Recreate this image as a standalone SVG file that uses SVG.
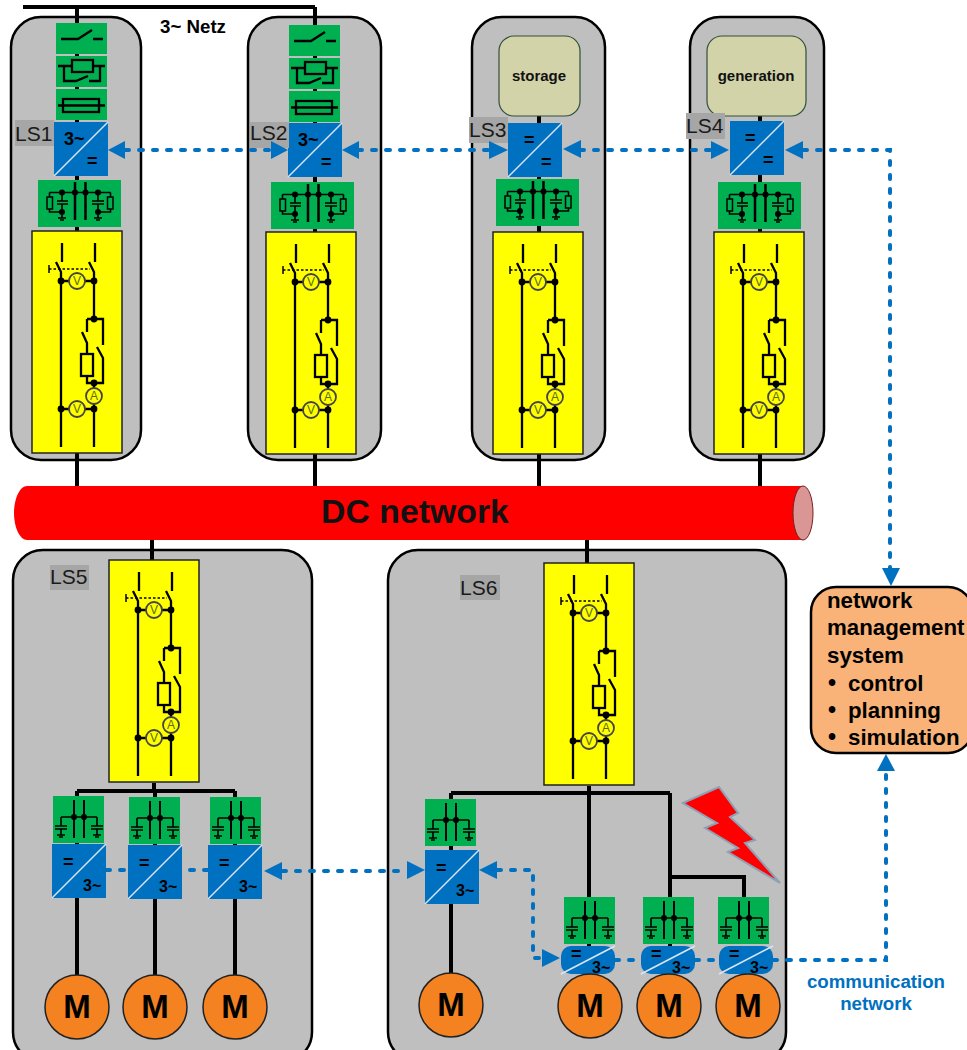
<svg xmlns="http://www.w3.org/2000/svg" width="967" height="1050" viewBox="0 0 967 1050">
<style>
text{font-family:"Liberation Sans",Arial,sans-serif}
.panel{fill:#bfbfbf;stroke:#000;stroke-width:2.5}
.wire{fill:none;stroke:#000;stroke-width:4}
.thin{fill:none;stroke:#000;stroke-width:2.3}
.gr{fill:#00b050}
.blue{fill:#0070c0}
.diag{stroke:#dce6f2;stroke-width:1.5;fill:none}
.comm{fill:none;stroke:#0070c0;stroke-width:4;stroke-dasharray:4 10;stroke-linecap:round}
.ah{fill:#0070c0}
.ls{font-size:21px;fill:#1a1a1a}
.lsb{fill:#a6a6a6}
.cv{font-weight:bold;font-size:18px;fill:#000}
.cvs{font-weight:bold;font-size:16px;fill:#000}
.meter{font-size:12px;fill:#5a6a10;text-anchor:middle}
.mt{font-weight:bold;font-size:33px;fill:#000;text-anchor:middle}
.nms{font-weight:bold;font-size:22.3px;fill:#000}
.bul{font-weight:bold;font-size:23px;fill:#000}
.src{fill:#d2d3a8;stroke:#30503a;stroke-width:1.2}
.srct{font-weight:bold;font-size:15px;fill:#111;text-anchor:middle}
.mot{fill:#f58220;stroke:#222;stroke-width:1.5}
</style>
<defs>
<g id="ybox">
<rect x="0" y="0" width="90" height="222" fill="#ff0" stroke="#222" stroke-width="1.5"/>
<path class="thin" d="M30 12V31M63 12V31M24 31L29 41V216M57 31L62 41V88M29 50H62M55 88H71V114M55 88V101M50 101L55 112V123M55 145V152H71V127L65 116M55 152H62V216M29 178H62"/>
<path d="M17 38H58" fill="none" stroke="#000" stroke-width="1.5" stroke-dasharray="2.5 2"/>
<path d="M17 34V42" fill="none" stroke="#000" stroke-width="1.5"/>
<rect x="49" y="123" width="12" height="22" fill="#ff0" stroke="#000" stroke-width="2.300"/>
<g fill="#000"><circle cx="29" cy="50" r="3.400"/><circle cx="62" cy="50" r="3.400"/><circle cx="62" cy="88" r="3.400"/><circle cx="62" cy="152" r="3.400"/><circle cx="29" cy="178" r="3.400"/><circle cx="62" cy="178" r="3.400"/></g>
<g fill="#ff0" stroke="#444" stroke-width="1.800"><circle cx="45" cy="50" r="8"/><circle cx="62" cy="165" r="8"/><circle cx="45" cy="178" r="8"/></g>
</g>
<g id="sw"><rect width="51" height="31" class="gr"/><path class="thin" d="M5 16H22L36 7M37 16H47"/></g>
<g id="th"><rect width="51" height="31" class="gr"/><path class="thin" d="M2 10H49M8 10V25H20L32 20M44 10V25H33"/><rect x="16" y="4" width="21" height="12" fill="#00b050" stroke="#000" stroke-width="2.300"/></g>
<g id="fu"><rect width="51" height="31" class="gr"/><path class="thin" d="M2 16.500H49"/><rect x="7" y="10" width="36" height="13" fill="none" stroke="#000" stroke-width="2.300"/></g>
<g id="cap">
<rect width="83" height="47" class="gr"/>
<path d="M37 2V40M47.500 2V40" fill="none" stroke="#000" stroke-width="2.500"/>
<path fill="none" stroke="#000" stroke-width="1.600" d="M11.500 12.500H72.500M11.500 12.500V17M11.500 29V32H24M72.500 12.500V17M72.500 29V32H60M24 12.500V21M24 24V38M60 12.500V21M60 24V38M19 21H30M19 24H30M54 21H66M54 24H66M20 38H28M22 40H26M56 38H64M58 40H62"/>
<rect x="9" y="17" width="5.500" height="12" fill="none" stroke="#000" stroke-width="1.500"/>
<rect x="69.500" y="17" width="5.500" height="12" fill="none" stroke="#000" stroke-width="1.500"/>
<g fill="#000"><circle cx="24" cy="12.500" r="3"/><circle cx="37" cy="12.500" r="3"/><circle cx="47.500" cy="12.500" r="3"/><circle cx="60" cy="12.500" r="3"/><circle cx="24" cy="32" r="3"/><circle cx="60" cy="32" r="3"/></g>
</g>
<g id="dcs">
<rect width="51" height="47" class="gr"/>
<path d="M21 4V42M31 4V42" fill="none" stroke="#000" stroke-width="2"/>
<path fill="none" stroke="#000" stroke-width="1.600" d="M8 21H44M8 21V30M44 21V30M2 30H14M2 33H14M38 30H50M38 33H50M8 33V39M44 33V39M4 39H12M6 41H10M40 39H48M42 41H46"/>
<circle cx="21" cy="21" r="3"/><circle cx="31" cy="21" r="3"/>
</g>
<g id="conv"><rect width="54" height="54" class="blue"/><path class="diag" d="M0 54L54 0"/></g>
<g id="lowc"><rect width="54" height="28" rx="10" class="blue"/><path class="diag" d="M0 28L54 0"/></g>
</defs>

<g id="LS1-panel"><rect class="panel" x="11" y="17" width="130" height="443" rx="30"/></g>
<g id="LS2-panel"><rect class="panel" x="248" y="17" width="133" height="443" rx="30"/></g>
<g id="LS3-panel"><rect class="panel" x="472" y="17" width="133" height="443" rx="30"/></g>
<g id="LS4-panel"><rect class="panel" x="690" y="17" width="134" height="443" rx="30"/></g>
<g id="LS5-panel"><rect class="panel" x="13" y="550" width="299" height="512" rx="30"/></g>
<g id="LS6-panel"><rect class="panel" x="388" y="550" width="398" height="512" rx="30"/></g>

<g id="power-lines">
<path class="wire" d="M23 7H315M77 7V486M315 7V486M539 116V486M760 116V486"/>
<path class="wire" d="M152 540V560M587 540V563"/>
<path class="wire" d="M154 783V791M77 791H235M77 791V975M155 791V975M235 791V975"/>
<path class="wire" d="M589 786V793M451 793H670M451 793V975M589 793V946M670 793V946M670 877H744V897"/>
</g>

<g id="dc-network">
<path d="M27 486H803V540H27A13 27 0 0 1 27 486Z" fill="#f00"/>
<ellipse cx="803" cy="513" rx="10" ry="27" fill="#d99694" stroke="#7a2020" stroke-width="1"/>
<text x="415" y="523" font-size="33.800" font-weight="bold" text-anchor="middle" fill="#111">DC network</text>
</g>

<g id="LS1">
<use href="#sw" x="56" y="23"/><use href="#th" x="56" y="56"/><use href="#fu" x="56" y="89"/>
<use href="#conv" x="54" y="122"/><text class="cv" x="64" y="145">3~</text><text class="cv" x="87" y="167">=</text>
<use href="#cap" x="38" y="180"/>
<use href="#ybox" x="32" y="231"/><text class="meter" x="77" y="285">V</text><text class="meter" x="94" y="400">A</text><text class="meter" x="77" y="413">V</text>
<rect class="lsb" x="15" y="120" width="39" height="26"/><text class="ls" x="15" y="141">LS1</text>
</g>
<g id="LS2">
<use href="#sw" x="289" y="25"/><use href="#th" x="289" y="58"/><use href="#fu" x="289" y="91"/>
<use href="#conv" x="288" y="123"/><text class="cv" x="298" y="146">3~</text><text class="cv" x="321" y="168">=</text>
<use href="#cap" x="271" y="182"/>
<use href="#ybox" x="266" y="232"/><text class="meter" x="311" y="286">V</text><text class="meter" x="328" y="401">A</text><text class="meter" x="311" y="414">V</text>
<rect class="lsb" x="250" y="122" width="39" height="26"/><text class="ls" x="250" y="140">LS2</text>
</g>
<g id="LS3">
<rect class="src" x="499" y="36" width="81" height="80" rx="15"/><text class="srct" x="539" y="81">storage</text>
<use href="#conv" x="508" y="123"/><text class="cv" x="524" y="146">=</text><text class="cv" x="541" y="168">=</text>
<use href="#cap" x="496" y="179"/>
<use href="#ybox" x="493" y="232"/><text class="meter" x="538" y="286">V</text><text class="meter" x="555" y="401">A</text><text class="meter" x="538" y="414">V</text>
<rect class="lsb" x="469" y="117" width="39" height="26"/><text class="ls" x="469" y="137">LS3</text>
</g>
<g id="LS4">
<rect class="src" x="707" y="36" width="99" height="80" rx="15"/><text class="srct" x="756" y="81">generation</text>
<use href="#conv" x="730" y="121"/><text class="cv" x="745" y="144">=</text><text class="cv" x="763" y="166">=</text>
<use href="#cap" x="718" y="182"/>
<use href="#ybox" x="714" y="232"/><text class="meter" x="759" y="286">V</text><text class="meter" x="776" y="401">A</text><text class="meter" x="759" y="414">V</text>
<rect class="lsb" x="686" y="113" width="39" height="26"/><text class="ls" x="686" y="133">LS4</text>
</g>
<g id="LS5">
<use href="#ybox" x="109" y="560"/><text class="meter" x="154" y="614">V</text><text class="meter" x="171" y="729">A</text><text class="meter" x="154" y="742">V</text>
<rect class="lsb" x="50" y="565" width="39" height="25"/><text class="ls" x="50" y="584">LS5</text>
<use href="#dcs" x="53" y="796"/><use href="#dcs" x="129" y="797"/><use href="#dcs" x="210" y="797"/>
<use href="#conv" x="52" y="844"/><text class="cv" x="63" y="868">=</text><text class="cvs" x="83" y="891">3~</text>
<use href="#conv" x="128" y="845"/><text class="cv" x="139" y="869">=</text><text class="cvs" x="159" y="892">3~</text>
<use href="#conv" x="208" y="845"/><text class="cv" x="219" y="869">=</text><text class="cvs" x="239" y="892">3~</text>
<circle class="mot" cx="77" cy="1007" r="32"/><text class="mt" x="77" y="1018">M</text>
<circle class="mot" cx="155" cy="1007" r="32"/><text class="mt" x="155" y="1018">M</text>
<circle class="mot" cx="235" cy="1007" r="32"/><text class="mt" x="235" y="1018">M</text>
</g>
<g id="LS6">
<use href="#ybox" x="544" y="563"/><text class="meter" x="589" y="617">V</text><text class="meter" x="606" y="732">A</text><text class="meter" x="589" y="745">V</text>
<rect class="lsb" x="460" y="575" width="40" height="25"/><text class="ls" x="460" y="595">LS6</text>
<use href="#dcs" x="425" y="799"/>
<use href="#conv" x="425" y="850"/><text class="cv" x="436" y="874">=</text><text class="cvs" x="456" y="896">3~</text>
<use href="#dcs" x="564" y="897"/><use href="#dcs" x="643" y="897"/><use href="#dcs" x="718" y="897"/>
<circle class="mot" cx="451" cy="1005" r="32"/><text class="mt" x="451" y="1016">M</text>
<polygon points="683,803 719,787 738,813 730,817 755,840 745,843 780,883 728,852 738,848 705,828 717,823" fill="#f00" stroke="#8ea0b4" stroke-width="2"/>
</g>

<g id="connectors">
<path class="comm" d="M125 150H270M358 150H490M580 150H710M803 150H890V570"/>
<path class="comm" d="M106 870H208M282 871H408M497 870H533V958H543"/>
<path class="comm" d="M615 960H641M695 960H719M773 960H886V772"/>
<polygon class="ah" points="108,150 125,141 125,159"/>
<polygon class="ah" points="288,150 271,141 271,159"/>
<polygon class="ah" points="342,150 359,141 359,159"/>
<polygon class="ah" points="508,150 489,141 489,159"/>
<polygon class="ah" points="563,149 581,140 581,158"/>
<polygon class="ah" points="729,150 711,141 711,159"/>
<polygon class="ah" points="785,150 803,141 803,159"/>
<polygon class="ah" points="891,586 882,568 900,568"/>
<polygon class="ah" points="886,754 877,771 895,771"/>
<polygon class="ah" points="264,871 282,862 282,880"/>
<polygon class="ah" points="425,870 407,861 407,879"/>
<polygon class="ah" points="479,870 497,861 497,879"/>
<polygon class="ah" points="560,958 542,949 542,967"/>
</g>

<g id="LS6-drives">
<use href="#lowc" x="561" y="946"/><text class="cv" x="571" y="960">=</text><text class="cvs" x="592" y="973">3~</text>
<use href="#lowc" x="641" y="946"/><text class="cv" x="651" y="960">=</text><text class="cvs" x="672" y="973">3~</text>
<use href="#lowc" x="719" y="946"/><text class="cv" x="729" y="960">=</text><text class="cvs" x="750" y="973">3~</text>
<circle class="mot" cx="590" cy="1006" r="32"/><text class="mt" x="590" y="1017">M</text>
<circle class="mot" cx="669" cy="1006" r="32"/><text class="mt" x="669" y="1017">M</text>
<circle class="mot" cx="748" cy="1006" r="32"/><text class="mt" x="748" y="1017">M</text>
</g>

<g id="nms">
<rect x="811" y="587" width="162" height="166" rx="25" fill="#f9b277" stroke="#000" stroke-width="2.500"/>
<text class="nms" x="827" y="608">network</text>
<text class="nms" x="827" y="635">management</text>
<text class="nms" x="827" y="663">system</text>
<text class="bul" x="828" y="691">•</text><text class="nms" x="848" y="691">control</text>
<text class="bul" x="828" y="718">•</text><text class="nms" x="848" y="718">planning</text>
<text class="bul" x="828" y="745">•</text><text class="nms" x="848" y="745">simulation</text>
</g>
<text x="160" y="33" font-size="18.700" font-weight="bold" fill="#000">3~ Netz</text>
<text x="876" y="988" font-size="18.700" font-weight="bold" fill="#0070c0" text-anchor="middle">communication</text>
<text x="876" y="1010" font-size="18.700" font-weight="bold" fill="#0070c0" text-anchor="middle">network</text>
</svg>
